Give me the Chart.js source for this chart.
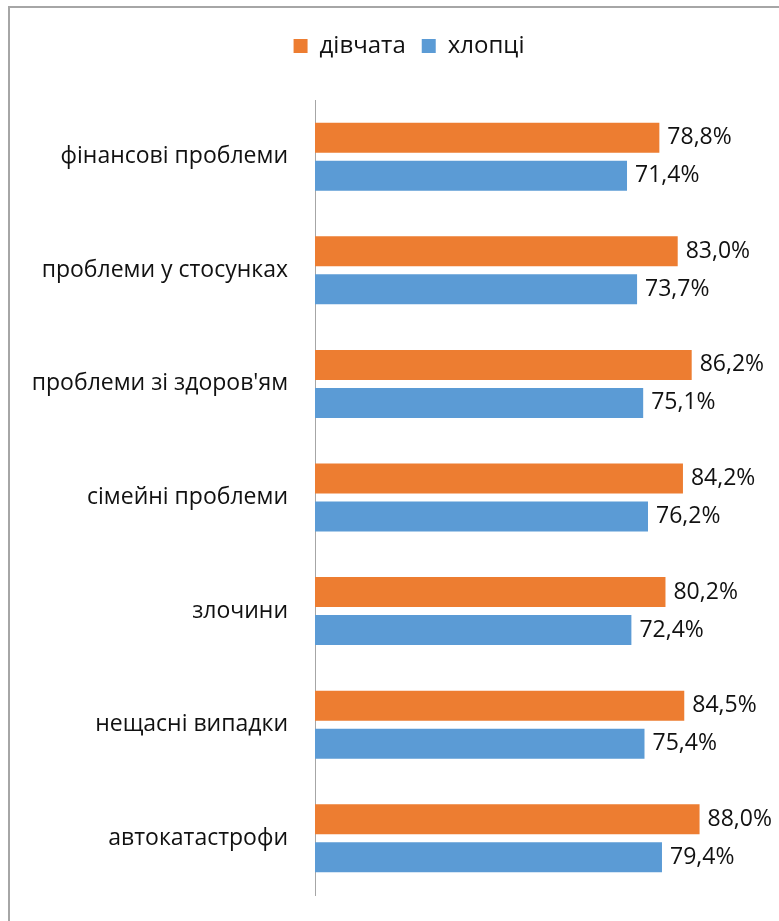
<!DOCTYPE html>
<html>
<head>
<meta charset="utf-8">
<script src="https://cdn.jsdelivr.net/npm/chart.js@4.4.1/dist/chart.umd.min.js"></script>
<style>
    html, body { margin: 0; padding: 0; background: #fff; overflow: hidden; width: 779px; height: 921px; }
    .frame {
        position: absolute;
        left: 8px;
        top: 6px;
        width: 771px;
        height: 915px;
        border-left: 2px solid #a6a6a6;
        border-top: 2px solid #a6a6a6;
        box-sizing: border-box;
    }
    .wrap { position: absolute; left: 0; top: 0; width: 779px; height: 921px; }
</style>
</head>
<body>
<div class="frame"></div>
<div class="wrap"><canvas id="myChart"></canvas></div>
<script>
const categories = ['фінансові проблеми', 'проблеми у стосунках', "проблеми зі здоров'ям", 'сімейні проблеми', 'злочини', 'нещасні випадки', 'автокатастрофи'];
const girls = [78.8, 83.0, 86.2, 84.2, 80.2, 84.5, 88.0];
const boys = [71.4, 73.7, 75.1, 76.2, 72.4, 75.4, 79.4];

const FONT = "'Open Sans', sans-serif";

// подписи значений справа от полос
const valueLabels = {
    id: 'valueLabels',
    afterDatasetsDraw(chart) {
        const c = chart.ctx;
        c.save();
        c.font = '23px ' + FONT;
        c.fillStyle = '#111';
        c.textAlign = 'left';
        c.textBaseline = 'middle';
        chart.data.datasets.forEach((ds, i) => {
            chart.getDatasetMeta(i).data.forEach((bar, j) => {
                c.fillText(ds.data[j].toFixed(1).replace('.', ',') + '%', bar.x + 8, bar.y);
            });
        });
        c.restore();
    }
};

// лишнее место под легендой + сдвиг легенды вправо
const legendGap = {
    id: 'legendGap',
    beforeInit(chart) {
        const fit = chart.legend.fit;
        chart.legend.fit = function () {
            fit.bind(chart.legend)();
            this.height += 32;
        };
    },
    afterLayout(chart) {
        chart.legend.left += 33;
        chart.legend.right += 33;
    }
};

const ctx = document.getElementById('myChart');
new Chart(ctx, {
    type: 'bar',
    data: {
        labels: categories,
        datasets: [
            {
                label: 'дівчата',
                data: girls,
                backgroundColor: '#ED7D31',
                categoryPercentage: 0.669,
                barPercentage: 0.79
            },
            {
                label: 'хлопці',
                data: boys,
                backgroundColor: '#5B9BD5',
                categoryPercentage: 0.669,
                barPercentage: 0.79
            }
        ]
    },
    options: {
        indexAxis: 'y',
        responsive: true,
        maintainAspectRatio: false,
        animation: false,
        layout: {
            padding: { top: 18, right: 27, bottom: 26, left: 0 }
        },
        plugins: {
            legend: {
                position: 'top',
                labels: {
                    font: { family: FONT, size: 24 },
                    color: '#111',
                    boxWidth: 14,
                    boxHeight: 14,
                    padding: 16
                }
            },
            tooltip: { enabled: false }
        },
        scales: {
            x: {
                display: false,
                min: 0,
                max: 100
            },
            y: {
                afterFit(scale) {
                    scale.width = 315;
                    scale.paddingTop = 0;
                    scale.paddingBottom = 0;
                },
                grid: { display: false, drawTicks: false },
                border: { display: true, color: '#a6a6a6', width: 1 },
                ticks: {
                    padding: 27,
                    color: '#111',
                    font: { family: FONT, size: 23 }
                }
            }
        }
    },
    plugins: [valueLabels, legendGap]
});
</script>
</body>
</html>
